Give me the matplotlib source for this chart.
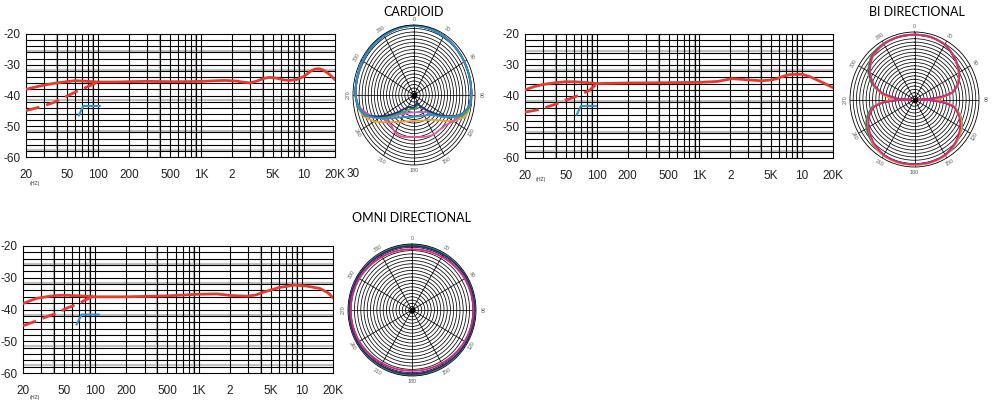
import numpy as np
import matplotlib
matplotlib.use("Agg")
import matplotlib.pyplot as plt
from matplotlib.ticker import NullLocator

W, H = 992, 403

# ---- frequency response data (Hz, dB) ----
card_f = [20, 25, 30, 40, 50, 60, 80, 100, 150, 200, 300, 500, 700, 1000, 1400, 1700, 2200,
          2600, 3000, 3500, 4000, 4600, 5500, 6500, 7300, 8500, 10000, 11500, 12800, 14000,
          15300, 17500, 20000]
card_db = [-38, -37.2, -36.6, -35.9, -35.5, -35.2, -35.4, -35.6, -35.6, -35.5, -35.4, -35.5,
           -35.5, -35.4, -35.2, -35.1, -35.3, -35.7, -35.9, -35.3, -34.5, -34.1, -34.4, -35,
           -35.1, -34.8, -33.8, -32.2, -31.4, -31.3, -31.7, -33.0, -34.9]
card_cut_f = [20, 27, 37, 42, 62, 74, 100]
card_cut_db = [-44.9, -43.8, -42.3, -41.4, -38.7, -37.6, -35.6]
card_pad_f = [65, 72, 104]
card_pad_db = [-46.5, -43.4, -43.4]

bi_f = [20, 25, 31, 40, 50, 60, 80, 100, 200, 500, 1000, 1500, 2000, 2100, 3000, 4000, 5000,
        5600, 6500, 7500, 9000, 10000, 12000, 15000, 20000]
bi_db = [-38, -36.9, -36.2, -35.7, -35.4, -35.4, -35.7, -36, -35.8, -35.7, -35.6, -35.3, -34.5,
         -34.4, -34.8, -35.1, -34.8, -34.5, -33.7, -33.1, -33, -33.0, -33.8, -35.3, -37.3]
bi_cut_f = [20, 27, 31, 41, 46, 59, 66, 85, 100]
bi_cut_db = [-45.2, -44.4, -43.8, -42.5, -41.7, -40.5, -39.8, -38.2, -36.0]
bi_pad_f = [64, 70, 98]
bi_pad_db = [-46, -43.2, -43.2]

omni_f = [20, 27, 35, 42, 50, 70, 100, 200, 500, 1000, 1500, 2100, 3000, 3600, 4300, 6000,
          8500, 11000, 15000, 18000, 20000]
omni_db = [-38.1, -36.5, -35.9, -35.6, -35.5, -35.7, -36, -36, -35.7, -35.2, -35.1, -35.6,
           -35.8, -35.4, -34.5, -33.1, -32.3, -32.6, -33.4, -34.8, -36.3]
omni_cut_f = [20, 27, 32, 43, 52, 72, 77, 97]
omni_cut_db = [-45.1, -43.6, -42.6, -41.1, -39.7, -37.9, -37.3, -35.7]
omni_pad_f = [66, 74, 108]
omni_pad_db = [-44.7, -41.6, -41.6]

freq_ticks = [20, 50, 100, 200, 500, 1000, 2000, 5000, 10000, 20000]
freq_labels = ["20", "50", "100", "200", "500", "1K", "2", "5K", "10", "20K"]
db_ticks = [-20, -30, -40, -50, -60]

# ---- polar data (degrees, relative radius) ----
card_ang = [0, 30, 60, 90, 100, 110, 120, 130, 140, 150, 160, 170, 180, 190, 200, 210, 220,
            230, 240, 250, 260, 270, 300, 330, 360]
card_blue = [.99, .97, .95, .94, .92, .83, .62, .45, .37, .34, .32, .31, .31, .32, .33, .36, .42,
             .52, .66, .84, .93, .96, .97, .98, .99]
card_green = [.99, .97, .95, .94, .93, .86, .64, .42, .26, .16, .15, .2, .19, .2, .22, .26, .32,
              .45, .64, .86, .94, .96, .97, .98, .99]
card_navy = [.99, .97, .95, .94, .92, .82, .6, .38, .24, .17, .12, .15, .18, .18, .18, .2, .26,
             .4, .6, .84, .93, .96, .97, .98, .99]
card_orange = [.99, .97, .95, .94, .93, .9, .74, .56, .46, .41, .39, .37, .37, .38, .4, .44, .5,
               .6, .75, .88, .94, .96, .97, .98, .99]
card_pink = [.99, .97, .95, .94, .92, .84, .74, .67, .65, .65, .63, .61, .6, .61, .63, .62, .57,
             .57, .64, .8, .92, .96, .97, .98, .99]
card_magenta = [.99, .97, .95, .94, .92, .84, .6, .42, .32, .28, .26, .25, .25, .25, .27, .3, .36,
                .48, .64, .84, .93, .96, .97, .98, .99]

bi_ang = [0, 15, 30, 45, 60, 70, 80, 85, 88, 90, 92, 95, 100, 110, 120, 135, 150, 165, 180, 195,
          210, 225, 240, 250, 260, 265, 268, 270, 272, 275, 280, 290, 300, 315, 330, 345, 360]
bi_pink = [.96, .96, .94, .88, .8, .73, .6, .42, .2, .05, .2, .45, .62, .74, .82, .9, .95, .96,
           .96, .96, .95, .9, .82, .75, .64, .48, .25, .05, .25, .3, .5, .68, .8, .92, .95, .96, .96]
bi_orange = [.96, .96, .94, .88, .79, .72, .6, .46, .38, .33, .38, .47, .63, .76, .84, .91, .96,
             .97, .97, .97, .96, .91, .83, .76, .65, .5, .38, .35, .38, .42, .52, .68, .8, .91, .95,
             .96, .96]
bi_green = [.96, .96, .94, .88, .8, .73, .6, .42, .2, .08, .2, .44, .63, .77, .85, .91, .95, .96,
            .96, .96, .96, .92, .86, .79, .67, .5, .25, .08, .25, .32, .52, .71, .83, .94, .96,
            .96, .96]
bi_navy = [.96, .96, .94, .87, .8, .72, .6, .4, .22, .15, .22, .42, .62, .75, .83, .9, .95, .96,
           .96, .96, .95, .91, .84, .77, .66, .48, .26, .16, .26, .31, .5, .69, .81, .92, .95,
           .96, .96]

omni_ang = [0, 30, 60, 90, 120, 150, 180, 210, 240, 270, 300, 330, 360]
omni_navy = [.97, .97, .98, .98, .98, .97, .97, .97, .98, .98, .98, .97, .97]
omni_green = [.99, .98, .97, .97, .97, .98, .99, .98, .97, .96, .97, .98, .99]
omni_pink = [.92, .93, .95, .96, .95, .93, .92, .93, .95, .96, .95, .93, .92]

RED = "#e8392f"
BLUE = "#2b93d1"
plt.rcParams["font.family"] = ["Liberation Sans", "DejaVu Sans"]


def box(x0, y0, x1, y1):
    return [x0 / W, 1 - y1 / H, (x1 - x0) / W, (y1 - y0) / H]


def freq_chart(rect, f, db, cf, cdb, pf, pdb, hz_xy):
    ax = fig.add_axes(box(*rect))
    ax.set_xscale("log")
    ax.set_xlim(20, 20000)
    ax.set_ylim(-60, -20)
    # grid
    for dec in [10, 100, 1000, 10000]:
        for n in range(1, 10):
            v = n * dec
            if v <= 20 or v >= 20000:
                continue
            if n in (4, 9):
                ax.axvline(v, color="#b8b8b8", lw=1.6, zorder=1)
            ax.axvline(v, color="black", lw=0.8, zorder=1.5)
    for v in range(-58, -20, 2):
        if v in (-26, -32, -42, -52, -58):
            ax.axhline(v + 0.4, color="#c0c0c0", lw=1.6, zorder=1)
        ax.axhline(v, color="black", lw=0.8, zorder=1.5)
    ax.plot(f, db, color=RED, lw=2.0, zorder=3, solid_capstyle="round")
    ax.plot(cf, cdb, color=RED, lw=2.0, ls=(0, (5, 2.5)), zorder=3)
    ax.plot(pf, pdb, color=BLUE, lw=1.5, zorder=3)
    ax.set_xticks(freq_ticks)
    ax.set_xticklabels(freq_labels)
    ax.xaxis.set_minor_locator(NullLocator())
    ax.set_yticks(db_ticks)
    ax.set_yticklabels([str(v) for v in db_ticks])
    ax.tick_params(length=0, labelsize=8.5, colors="#222222")
    ax.tick_params(axis="x", pad=9)
    ax.tick_params(axis="y", pad=4)
    for s in ax.spines.values():
        s.set_linewidth(0.8)
    fig.text(hz_xy[0] / W, 1 - hz_xy[1] / H, "(HZ)", fontsize=3.8, color="#333333",
             ha="center", va="center")
    return ax


def polar_chart(rect, ang, series, title, title_xy):
    ax = fig.add_axes(box(*rect), projection="polar")
    ax.set_aspect("auto")
    ax.set_theta_zero_location("N")
    ax.set_theta_direction(-1)
    ax.set_rlim(0, 1)
    ax.set_rgrids(np.arange(0.05, 1.0, 0.05), labels=[])
    ax.set_thetagrids(range(0, 360, 30), labels=[])
    ax.grid(True, color="black", lw=0.55)
    ax.spines["polar"].set_linewidth(0.6)
    th = np.radians(ang)
    for r, c in series:
        ln, = ax.plot(th, r, color=c, lw=1.3)
        ln.get_path()._interpolation_steps = 40
    ax.plot([0], [0], "o", color="black", ms=2.8)
    for a in range(0, 360, 30):
        rot = -a if (a <= 90 or a >= 270) else 180 - a
        ax.text(np.radians(a), 1.08, str(a), fontsize=3.8, color="#555555",
                rotation=rot, ha="center", va="center", clip_on=False)
    fig.text(title_xy[0] / W, 1 - title_xy[1] / H, title, fontsize=9,
             family=["Lato", "DejaVu Sans"], ha="center", va="center")
    return ax


fig = plt.figure(figsize=(W / 100, H / 100), dpi=100)

freq_chart((26, 34, 335, 157), card_f, card_db, card_cut_f, card_cut_db, card_pad_f,
           card_pad_db, (35, 184))
freq_chart((525, 34, 833, 158), bi_f, bi_db, bi_cut_f, bi_cut_db, bi_pad_f, bi_pad_db,
           (541, 180))
freq_chart((23, 246, 333, 373), omni_f, omni_db, omni_cut_f, omni_cut_db, omni_pad_f,
           omni_pad_db, (35, 397))

fig.text(353 / W, 1 - 174 / H, "30", fontsize=8.5, color="#222222", ha="center", va="center")

polar_chart((353, 25, 475, 165), card_ang,
            [(card_orange, "#f39a2c"), (card_pink, "#e8589f"), (card_magenta, "#c75ec9"),
             (card_green, "#3aa845"), (card_navy, "#232f7a"), (card_blue, "#2b93d1")],
            "CARDIOID", (414, 12))
polar_chart((850, 32, 979, 167), bi_ang,
            [(bi_green, "#3aa845"), (bi_navy, "#232f7a"), (bi_orange, "#f39a2c"),
             (bi_pink, "#d6287e")],
            "BI DIRECTIONAL", (917, 12))
polar_chart((348, 244, 476, 376), omni_ang,
            [(omni_green, "#3aa845"), (omni_navy, "#232f7a"), (omni_pink, "#d6287e")],
            "OMNI DIRECTIONAL", (411, 218))

fig.savefig("out.png", dpi=100)
